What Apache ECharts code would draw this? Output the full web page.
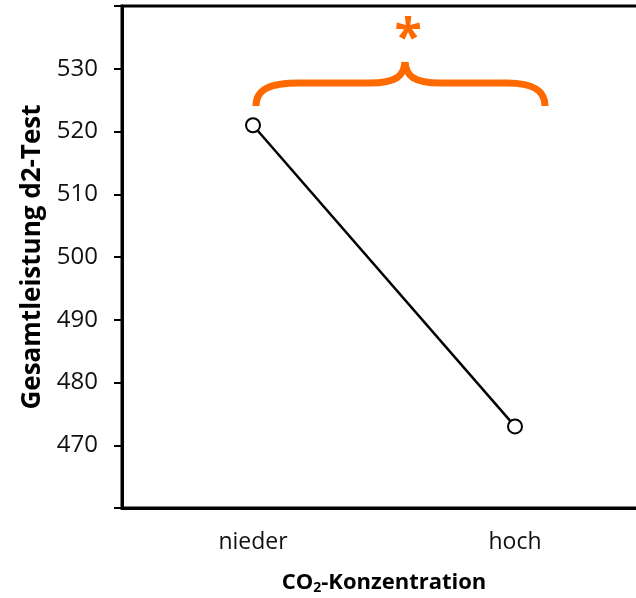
<!DOCTYPE html>
<html>
<head>
<meta charset="utf-8">
<script src="https://cdn.jsdelivr.net/npm/echarts@6/dist/echarts.min.js"></script>
<style>
  html, body { margin: 0; padding: 0; background: #fff; }
  #chart { width: 636px; height: 598px; }
</style>
</head>
<body>
<div id="chart"></div>
<script>
const categories = ['nieder', 'hoch']
const leistung = [521, 473]
const yMin = 460
const yMax = 540
const yStep = 10

const FONT = 'Open Sans'
const ORANGE = '#FF6A00'

const chart = echarts.init(document.getElementById('chart'))

// geschweifte Klammer als Kurvenstücke
const braceStyle = {stroke: ORANGE, lineWidth: 7, fill: null}
const curve = (x1, y1, c1x, c1y, c2x, c2y, x2, y2) => ({
  type: 'bezierCurve',
  shape: {x1, y1, cpx1: c1x, cpy1: c1y, cpx2: c2x, cpy2: c2y, x2, y2},
  style: braceStyle
})
const seg = (x1, y1, x2, y2) => ({
  type: 'line', shape: {x1, y1, x2, y2}, style: braceStyle
})

chart.setOption({
  animation: false,
  grid: {
    left: 122, top: 6, width: 524, bottom: 90,
    outerBoundsMode: 'none',
    show: true, borderColor: '#000', borderWidth: 3
  },
  xAxis: {
    type: 'category',
    data: categories,
    boundaryGap: true,
    axisLine: {lineStyle: {color: '#000', width: 3}},
    axisTick: {show: false},
    axisLabel: {color: '#111', fontFamily: FONT, fontSize: 23, margin: 23},
    name: '{a|CO}{s|2}{a|-Konzentration}',
    nameLocation: 'middle',
    nameGap: 62,
    nameTextStyle: {
      rich: {
        a: {fontFamily: FONT, fontWeight: 'bold', fontSize: 22, color: '#000'},
        s: {fontFamily: FONT, fontWeight: 'bold', fontSize: 14, color: '#000', verticalAlign: 'bottom', padding: [11, 0, 0, 0]}
      }
    }
  },
  yAxis: {
    type: 'value',
    min: yMin, max: yMax, interval: yStep,
    splitLine: {show: false},
    axisLine: {show: true, lineStyle: {color: '#000', width: 3}},
    axisTick: {show: true, length: 8, lineStyle: {color: '#000', width: 2}},
    axisLabel: {
      color: '#111', fontFamily: FONT, fontSize: 24, margin: 24,
      formatter: v => (v === yMin || v === yMax) ? '' : String(v)
    },
    name: 'Gesamtleistung d2-Test',
    nameLocation: 'middle',
    nameGap: 76,
    nameTextStyle: {fontFamily: FONT, fontWeight: 'bold', fontSize: 26, color: '#000'}
  },
  series: [{
    type: 'line',
    data: leistung,
    symbol: 'emptyCircle',
    symbolSize: 14,
    lineStyle: {color: '#000', width: 2.5},
    itemStyle: {color: '#000', borderColor: '#000', borderWidth: 2}
  }],
  graphic: [
    curve(256, 106, 256, 90, 268, 83, 300, 83),
    seg(300, 83, 370, 83),
    curve(370, 83, 396, 83, 404, 76, 405, 62),
    curve(405, 62, 406, 76, 414, 83, 440, 83),
    seg(440, 83, 507, 83),
    curve(507, 83, 533, 83, 545, 90, 545, 106),
    {
      type: 'text',
      x: 408, y: 40,
      style: {text: '*', font: 'bold 50px "Open Sans"', fill: ORANGE, align: 'center', verticalAlign: 'middle'}
    }
  ]
})
</script>
</body>
</html>
